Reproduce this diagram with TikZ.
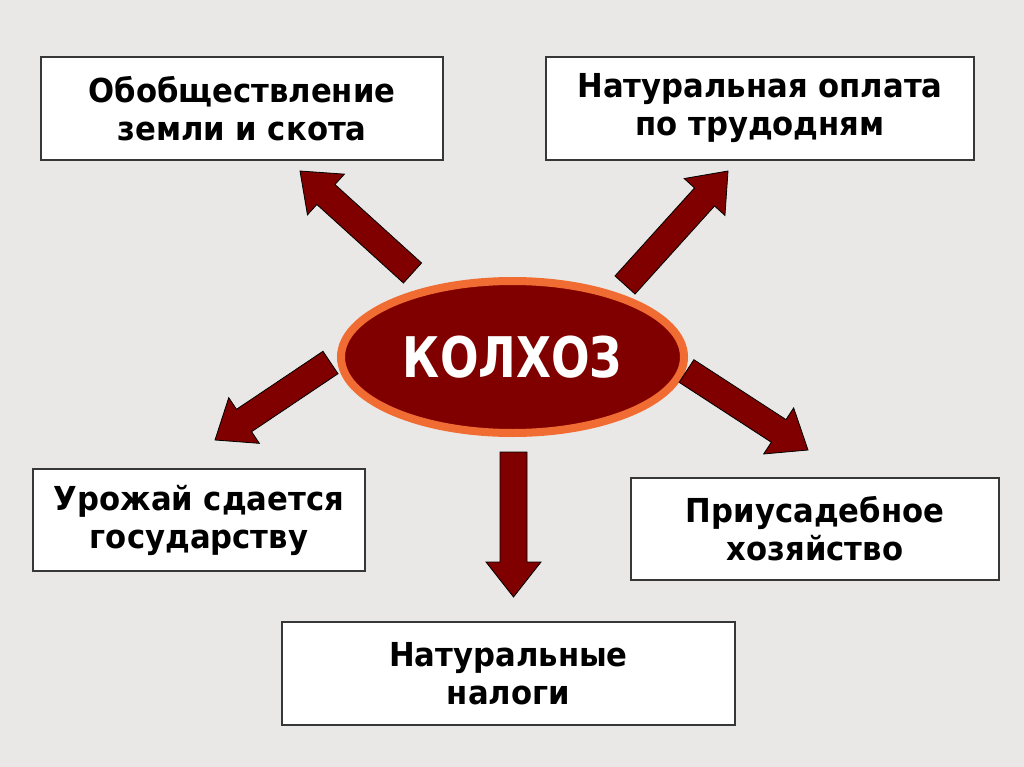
\documentclass[tikz,border=0pt]{standalone}
\usepackage{fontspec}
\usetikzlibrary{calc,shapes.geometric}
\newfontfamily\boxfont[FakeStretch=0.93]{DejaVu Sans}
\newfontfamily\bigfont[FakeStretch=0.81]{DejaVu Sans}
\definecolor{bgcol}{RGB}{234,232,230}
\definecolor{darkred}{RGB}{128,0,0}
\definecolor{orangeedge}{RGB}{240,108,50}
\definecolor{boxedge}{RGB}{55,55,55}
\tikzset{
  textbox/.style={draw=boxedge, line width=1.4pt, fill=white, inner sep=0pt,
    align=center, font=\boxfont\bfseries\fontsize{33}{38}\selectfont},
  centre/.style={ellipse, draw=orangeedge, line width=8pt, fill=darkred, inner sep=0pt,
    text=white, font=\bigfont\bfseries\fontsize{56}{60}\selectfont},
  blockarrow/.style={fill=darkred, draw=black, line width=0.8pt, line join=miter}
}
\newcommand\blockarr[3]{% tail, tip, neck-name
  \coordinate (#3) at ($(#2)!35pt!(#1)$);
  \path[blockarrow]
    ($(#1)!13.5pt!90:(#2)$) -- ($(#3)!13.5pt!90:(#2)$) -- ($(#3)!27.5pt!90:(#2)$) --
    (#2) --
    ($(#3)!27.5pt!-90:(#2)$) -- ($(#3)!13.5pt!-90:(#2)$) -- ($(#1)!13.5pt!-90:(#2)$) -- cycle;
}
\begin{document}
\begin{tikzpicture}[x=1pt,y=-1pt]
\useasboundingbox (0,0) rectangle (1024,767);
\fill[bgcol] (0,0) rectangle (1024,767);

\node[textbox, minimum width=402pt, minimum height=103pt] (b1) at (242,108.5)
  {Обобществление\\земли и скота};
\node[textbox, minimum width=428pt, minimum height=103pt] (b2) at (760,108.5)
  {Натуральная оплата\\по трудодням};
\node[textbox, minimum width=332pt, minimum height=102pt] (b3) at (199,520)
  {Урожай сдается\\государству};
\node[textbox, minimum width=368pt, minimum height=102pt] (b4) at (815,529)
  {Приусадебное\\хозяйство};
\node[textbox, minimum width=453pt, minimum height=103pt] (b5) at (508.5,673.5)
  {Натуральные\\налоги};

\node[centre, minimum width=343pt, minimum height=152pt] (k) at (512.5,357) {КОЛХОЗ};

\coordinate (t1) at (412.5,273); \coordinate (h1) at (300,171);
\coordinate (t2) at (625,285);   \coordinate (h2) at (728,171);
\coordinate (t3) at (330.5,362.5); \coordinate (h3) at (215,440);
\coordinate (t4) at (686.5,371); \coordinate (h4) at (808,450);
\coordinate (t5) at (513.5,452); \coordinate (h5) at (513.5,597);

\blockarr{t1}{h1}{n1}
\blockarr{t2}{h2}{n2}
\blockarr{t3}{h3}{n3}
\blockarr{t4}{h4}{n4}
\blockarr{t5}{h5}{n5}
\end{tikzpicture}
\end{document}
